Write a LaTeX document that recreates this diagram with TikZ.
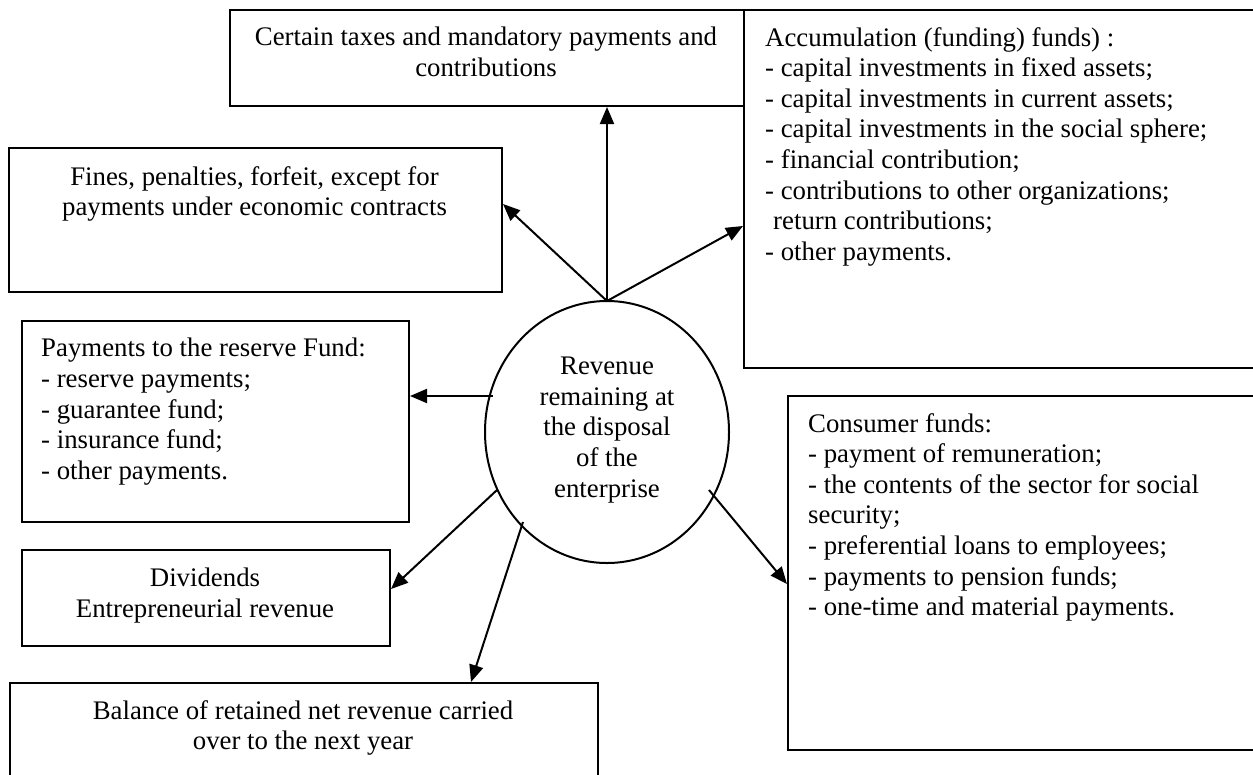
\documentclass[tikz,border=0pt]{standalone}
\usepackage{fontspec}
\setmainfont{Liberation Serif}
\usetikzlibrary{arrows.meta,shapes.geometric}
\begin{document}
\begin{tikzpicture}[x=1pt,y=-1pt,
  box/.style={draw, line width=2pt, inner sep=0pt, anchor=north west},
  txt/.style={inner sep=0pt, font=\fontsize{26.8}{30.6}\selectfont},
  arr/.style={line width=2pt, -{Triangle[length=17pt,width=14pt]}}]
\useasboundingbox (0,0) rectangle (1253,774);
\fill[white] (0,0) rectangle (1253,774);
\clip (0,0) rectangle (1253,774);
% boxes
\node[box, minimum width=514pt, minimum height=96pt] (taxes) at (229,9) {};
\node[box, minimum width=530pt, minimum height=358pt] (accum) at (743,9) {};
\node[box, minimum width=493pt, minimum height=144pt] (fines) at (8,147) {};
\node[box, minimum width=387pt, minimum height=201pt] (reserve) at (21,320) {};
\node[box, minimum width=368pt, minimum height=96pt] (divid) at (21,549) {};
\node[box, minimum width=588pt, minimum height=110pt] (balance) at (9,682) {};
\node[box, minimum width=490pt, minimum height=354pt] (consumer) at (787,395) {};
\node[draw, line width=2pt, ellipse, minimum width=244pt, minimum height=262pt, inner sep=0pt] (rev) at (607,432) {};
% texts
\node[txt, anchor=north, align=center] (taxesT) at (486,27) {Certain taxes and mandatory payments and\\contributions};
\node[txt, anchor=north west, align=left] (accumT) at (765,27) {Accumulation (funding) funds) :\\- capital investments in fixed assets;\\- capital investments in current assets;\\- capital investments in the social sphere;\\- financial contribution;\\- contributions to other organizations;\\\hspace*{0.3em}return contributions;\\- other payments.};
\node[txt, anchor=north, align=center] (finesT) at (254.5,166) {Fines, penalties, forfeit, except for\\payments under economic contracts};
\node[txt, anchor=north west, align=left] (reserveT) at (41,338) {Payments to the reserve Fund:\\- reserve payments;\\- guarantee fund;\\- insurance fund;\\- other payments.};
\node[txt, anchor=north, align=center] (dividT) at (205,568) {Dividends\\Entrepreneurial revenue};
\node[txt, anchor=north, align=center] (balanceT) at (303,700) {Balance of retained net revenue carried\\over to the next year};
\node[txt, anchor=north west, align=left] (consumerT) at (808,413) {Consumer funds:\\- payment of remuneration;\\- the contents of the sector for social\\security;\\- preferential loans to employees;\\- payments to pension funds;\\- one-time and material payments.};
\node[txt, anchor=north, align=center] (revT) at (607,357) {Revenue\\remaining at\\the disposal\\of the\\enterprise};
% connectors
\coordinate (o) at (607,301);
\draw[arr] (o) -- (o |- taxes.south);
\draw[arr] (o) -- ([yshift=16pt]fines.east);
\draw[arr] (o) -- ([yshift=-37pt]accum.west);
\coordinate (s1) at (493,396);
\draw[arr] (s1) -- (s1 -| reserve.east);
\coordinate (s2) at (497,490);
\draw[arr] (s2) -- ([yshift=9pt]divid.east);
\coordinate (s3) at (523,522);
\draw[arr] (s3) -- ([xshift=167pt]balance.north);
\coordinate (s4) at (709,490);
\draw[arr] (s4) -- ([yshift=-11pt]consumer.west);
\end{tikzpicture}
\end{document}
